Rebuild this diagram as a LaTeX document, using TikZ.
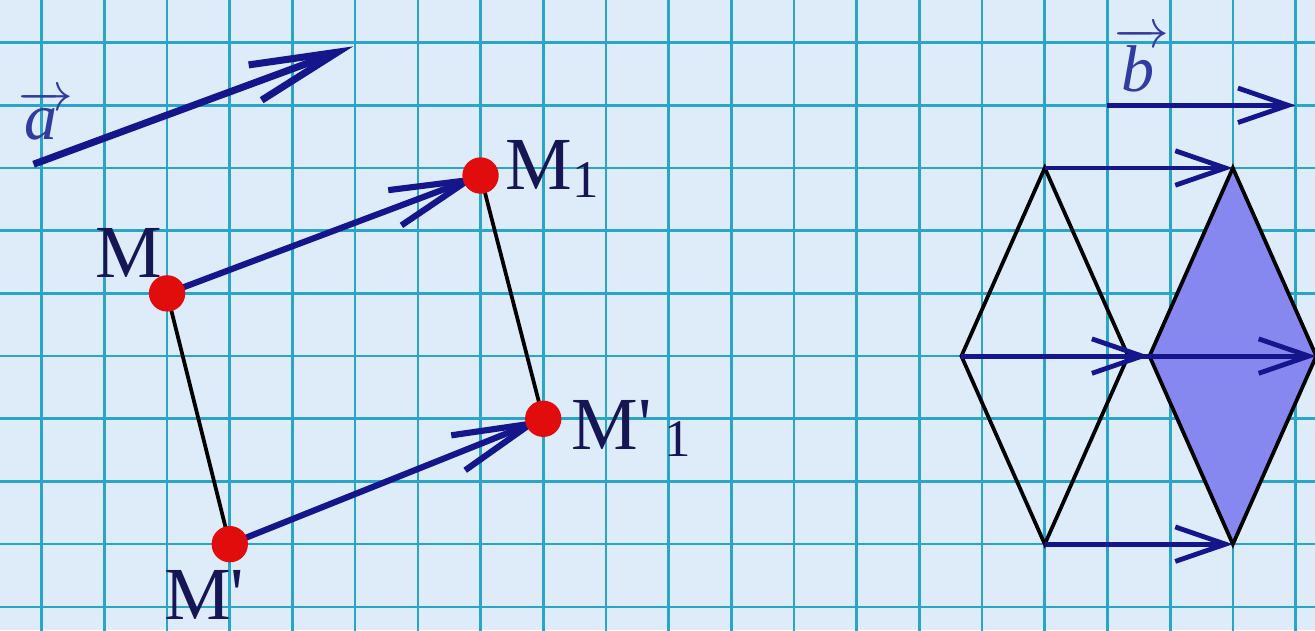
\documentclass[tikz,border=0pt]{standalone}
\usepackage{fontspec}
\setmainfont{Liberation Serif}
\usetikzlibrary{arrows.meta}
\definecolor{paper}{RGB}{222,236,250}
\definecolor{gridcol}{RGB}{40,165,200}
\definecolor{vecblue}{RGB}{22,22,140}
\definecolor{dotred}{RGB}{225,12,12}
\definecolor{navy}{RGB}{22,22,85}
\definecolor{labblue}{RGB}{50,60,160}
\definecolor{rhombfill}{RGB}{135,135,240}
\newcommand{\lowone}{\raisebox{-0.1em}{\fontsize{24}{24}\selectfont 1}}
\tikzset{
  gridline/.style={gridcol,line width=1.2pt},
  bigvec/.style={vecblue,line width=3.2pt,-{Straight Barb[length=1.4cm,width=0.6cm]}},
  shiftvec/.style={vecblue,line width=2.8pt,-{Straight Barb[length=1.25cm,width=0.6cm]}},
  bvec/.style={vecblue,line width=2.2pt,-{Straight Barb[length=0.8cm,width=0.55cm]}},
  side/.style={black,line width=1.7pt},
  mlabel/.style={navy,inner sep=0pt,anchor=base west,font=\fontsize{34}{34}\selectfont},
  veclabel/.style={labblue,inner sep=0pt,anchor=base west,font=\fontsize{30}{30}\selectfont\itshape},
}
\begin{document}
\begin{tikzpicture}[x=1cm,y=1cm]
\useasboundingbox (-0.665,-0.37) rectangle (20.31,9.68);
\fill[paper] (-0.665,-0.37) rectangle (20.31,9.68);
\draw[gridline] (-1,-1) grid (21,10);

% vector a
\coordinate (a0) at (-0.13,7.06);
\coordinate (a1) at (4.97,8.94);
\draw[bigvec] (a0) -- (a1);
\node[veclabel] (laba) at (-0.37,7.45) {$\overrightarrow{\hbox{\itshape a\kern0.15em}}$};

% parallel translation of MM'
\coordinate (M) at (2,5);
\coordinate (Mp) at (3,1);
\coordinate (M1) at (7,6.88);
\coordinate (Mp1) at (8,3);
\draw[side] (M) -- (Mp);
\draw[side] (M1) -- (Mp1);
\draw[shiftvec] (M) -- (M1);
\draw[shiftvec] (Mp) -- (Mp1);
\foreach \p in {M,Mp,M1,Mp1}
  \fill[dotred] (\p) circle (0.29);
\node[mlabel] (labM) at (0.85,5.25) {M};
\node[mlabel] (labMp) at (1.95,-0.2) {M\textquotesingle};
\node[mlabel] (labM1) at (7.39,6.65) {M\lowone};
\node[mlabel] (labMp1) at (8.45,2.51) {M\textquotesingle\,\lowone};

% vector b and the rhombi
\coordinate (b0) at (17,8);
\coordinate (b1) at (20,8);
\draw[bvec] (b0) -- (b1);
\node[veclabel] (labb) at (17.1,8.22) {$\overrightarrow{\hbox{\itshape b\kern0.1em}}$};

\coordinate (T) at (16,7);
\coordinate (R) at (17.33,4);
\coordinate (B) at (16,1);
\coordinate (L) at (14.67,4);
\coordinate (T1) at (19,7);
\coordinate (R1) at (20.33,4);
\coordinate (B1) at (19,1);
\coordinate (L1) at (17.67,4);
\fill[rhombfill] (T1) -- (R1) -- (B1) -- (L1) -- cycle;
\draw[side] (T) -- (R) -- (B) -- (L) -- cycle;
\draw[side] (T1) -- (R1) -- (B1) -- (L1) -- cycle;
\draw[bvec] (T) -- (T1);
\draw[bvec] (B) -- (B1);
\draw[bvec] (L) -- (L1);
\draw[bvec] (R) -- (R1);
\end{tikzpicture}
\end{document}
